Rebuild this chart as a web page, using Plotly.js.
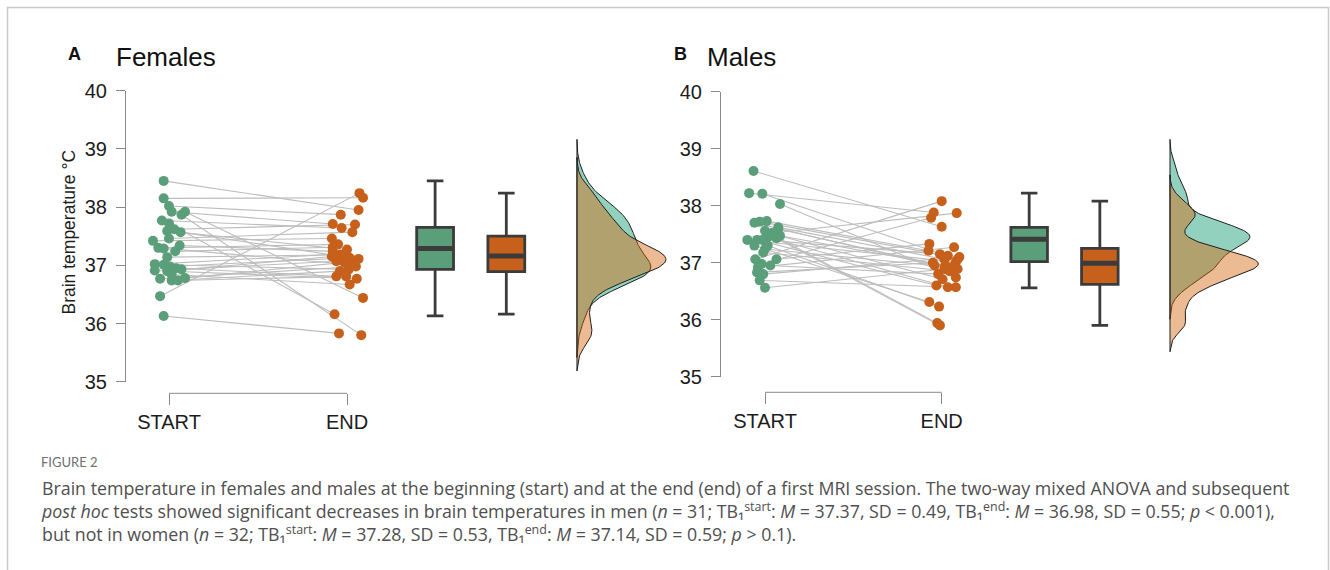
<!DOCTYPE html>
<html>
<head>
<meta charset="utf-8">
<script src="https://cdn.plot.ly/plotly-3.0.1.min.js"></script>
<style>
  html, body { margin: 0; padding: 0; background: #ffffff; }
  #chart { width: 1330px; height: 570px; }
</style>
</head>
<body>
<div id="chart"></div>
<script>
// Measurement time points
const categories = ['START', 'END'];
const yTickValues = [35, 36, 37, 38, 39, 40];

// Females: paired brain temperatures (°C), one entry per participant
const femaleStart = [38.45, 38.15, 36.47, 36.13, 37.87, 37.72, 38.02, 37.92, 37.92, 37.77, 37.62, 37.59, 37.57, 37.46, 37.42, 37.34,
                     37.30, 37.29, 37.24, 37.14, 37.02, 37.01, 36.98, 36.95, 36.93, 36.91, 36.90, 36.84, 36.78, 36.77, 36.74, 36.74];
const femaleEnd   = [37.95, 38.16, 38.24, 35.83, 35.80, 36.16, 37.87, 37.71, 36.44, 37.64, 37.70, 37.27, 37.11, 37.57, 37.46, 37.24,
                     37.36, 37.01, 37.31, 37.18, 37.20, 36.93, 37.13, 36.81, 37.07, 36.77, 37.15, 36.67, 37.05, 36.98, 36.90, 36.81];
// horizontal jitter of each dot around its category
const femaleStartJitter = [-0.03, -0.03, -0.05, -0.03, 0.07, 0.0, 0.0, 0.015, 0.09, -0.04, 0.03, -0.01, 0.065, 0.0, -0.09, 0.06,
                           -0.06, -0.03, 0.035, -0.01, -0.08, -0.03, 0.005, 0.04, 0.07, -0.08, -0.01, 0.015, 0.09, -0.05, 0.015, 0.05];
const femaleEndJitter   = [0.065, 0.09, 0.07, -0.045, 0.08, -0.07, -0.035, -0.08, 0.09, -0.03, 0.045, 0.0, 0.065, 0.03, -0.085, -0.08,
                           -0.05, 0.035, -0.08, -0.04, -0.01, 0.01, 0.015, -0.06, -0.06, 0.055, -0.085, 0.015, -0.015, 0.05, -0.04, -0.005];
// box statistics [START, END]
const femaleQ1 = [36.93, 36.89];
const femaleMedian = [37.29, 37.16];
const femaleQ3 = [37.65, 37.50];
const femaleLowerWhisker = [36.13, 36.16];
const femaleUpperWhisker = [38.45, 38.24];

// Males
const maleStart = [38.61, 38.22, 38.21, 38.03, 37.73, 37.72, 37.70, 37.62, 37.59, 37.56, 37.50, 37.47, 37.43, 37.40, 37.40, 37.30,
                   37.30, 37.24, 37.52, 37.18, 37.45, 37.06, 37.06, 37.40, 36.98, 36.95, 36.92, 36.83, 36.80, 36.69, 36.56];
const maleEnd   = [37.63, 37.88, 37.06, 36.74, 37.21, 37.12, 36.95, 37.06, 36.89, 35.94, 36.95, 36.71, 35.90, 37.01, 36.60, 36.23,
                   36.31, 36.92, 37.87, 36.85, 36.57, 38.08, 37.33, 37.15, 37.79, 36.80, 37.27, 37.00, 37.10, 36.57, 36.89];
const maleStartJitter = [-0.065, -0.09, -0.015, 0.085, 0.01, -0.03, -0.06, 0.075, 0.075, 0.0, 0.035, 0.085, 0.065, -0.1, -0.045, 0.015,
                         -0.06, 0.0, 0.04, -0.01, 0.015, -0.055, 0.065, -0.015, -0.02, 0.03, -0.04, -0.045, -0.01, -0.03, 0.0];
const maleEndJitter   = [0.0, -0.045, 0.09, 0.08, -0.075, 0.035, -0.04, 0.015, 0.09, -0.025, 0.02, 0.005, -0.01, 0.08, -0.03, -0.015,
                         -0.07, 0.055, 0.085, 0.045, 0.035, 0.0, -0.07, -0.01, -0.06, -0.02, 0.07, -0.05, 0.1, 0.08, 0.015];
const maleQ1 = [37.02, 36.62];
const maleMedian = [37.41, 36.99];
const maleQ3 = [37.62, 37.25];
const maleLowerWhisker = [36.56, 35.90];
const maleUpperWhisker = [38.22, 38.08];

// ---- drawing ----
const W = 1330, H = 570;
const GREEN = '#5a9e7a', ORANGE = '#c6601b';
const GREEN_FILL = 'rgba(27,158,119,0.48)', ORANGE_FILL = 'rgba(214,100,10,0.44)';
const BOX_POS = [2.495, 2.895];     // x position of the two boxes
const BOX_WIDTH = 0.207;
const DENS_BASE = 3.292;            // baseline of the half-violins
const DENS_MAX = 0.5;               // widest point of the half-violins
const X_MAX = 3.85;

function quantile(sorted, p) {
  const h = (sorted.length - 1) * p, lo = Math.floor(h);
  return sorted[lo] + (h - lo) * ((sorted[lo + 1] !== undefined ? sorted[lo + 1] : sorted[lo]) - sorted[lo]);
}

// Gaussian kernel density with Silverman's rule-of-thumb bandwidth
function kde(vals) {
  const n = vals.length;
  const s = vals.slice().sort((a, b) => a - b);
  const mean = vals.reduce((a, b) => a + b, 0) / n;
  const sd = Math.sqrt(vals.reduce((a, b) => a + (b - mean) ** 2, 0) / (n - 1));
  const iqr = quantile(s, 0.75) - quantile(s, 0.25);
  const bw = 0.9 * Math.min(sd, iqr / 1.34) * Math.pow(n, -0.2);
  const lo = s[0] - 3 * bw, hi = s[n - 1] + 3 * bw;
  const grid = [], dens = [];
  const m = 256;
  for (let k = 0; k < m; k++) {
    const g = lo + (hi - lo) * k / (m - 1);
    let d = 0;
    for (const v of vals) d += Math.exp(-0.5 * ((g - v) / bw) ** 2);
    grid.push(g);
    dens.push(d / (n * bw * Math.sqrt(2 * Math.PI)));
  }
  return { grid, dens };
}

function panelTraces(p, xa, ya) {
  const traces = [];
  const cat = [1, 2];
  // connecting lines between paired measurements
  const lx = [], ly = [];
  p.start.forEach((v, i) => {
    lx.push(cat[0] + p.jStart[i], cat[1] + p.jEnd[i], null);
    ly.push(v, p.end[i], null);
  });
  traces.push({ type: 'scatter', mode: 'lines', x: lx, y: ly, xaxis: xa, yaxis: ya,
    line: { color: '#bdbdbd', width: 1.1 }, hoverinfo: 'skip', showlegend: false });
  // dots
  [[p.start, p.jStart, cat[0], GREEN], [p.end, p.jEnd, cat[1], ORANGE]].forEach(([vals, jit, c, col]) => {
    traces.push({ type: 'scatter', mode: 'markers', x: vals.map((v, i) => c + jit[i]), y: vals,
      xaxis: xa, yaxis: ya, marker: { color: col, size: 10, line: { width: 0 } }, showlegend: false, cliponaxis: false });
  });
  // boxes
  [0, 1].forEach(k => {
    traces.push({ type: 'box', x: [BOX_POS[k]], q1: [p.q1[k]], median: [p.median[k]], q3: [p.q3[k]],
      lowerfence: [p.lw[k]], upperfence: [p.uw[k]], width: BOX_WIDTH, whiskerwidth: 0.45,
      fillcolor: k === 0 ? GREEN : ORANGE, line: { color: '#3b3b3b', width: 2.8 },
      boxpoints: false, xaxis: xa, yaxis: ya, showlegend: false });
  });
  // heavier median bars
  const mx = [], my = [];
  [0, 1].forEach(k => {
    mx.push(BOX_POS[k] - BOX_WIDTH / 2 + 0.008, BOX_POS[k] + BOX_WIDTH / 2 - 0.008, null);
    my.push(p.median[k], p.median[k], null);
  });
  traces.push({ type: 'scatter', mode: 'lines', x: mx, y: my, xaxis: xa, yaxis: ya,
    line: { color: '#3b3b3b', width: 5 }, hoverinfo: 'skip', showlegend: false });
  // half-violins
  const dS = kde(p.start), dE = kde(p.end);
  const scale = DENS_MAX / Math.max(...dS.dens, ...dE.dens);
  [[dS, GREEN_FILL], [dE, ORANGE_FILL]].forEach(([d, fill]) => {
    const x = [DENS_BASE], y = [d.grid[0]];
    d.grid.forEach((g, i) => { x.push(DENS_BASE + d.dens[i] * scale); y.push(g); });
    x.push(DENS_BASE); y.push(d.grid[d.grid.length - 1]);
    x.push(DENS_BASE); y.push(d.grid[0]);
    traces.push({ type: 'scatter', mode: 'lines', x, y, fill: 'toself', fillcolor: fill,
      line: { color: '#1e1e1e', width: 1 }, xaxis: xa, yaxis: ya, hoverinfo: 'skip', showlegend: false });
  });
  return traces;
}

const female = { start: femaleStart, end: femaleEnd, jStart: femaleStartJitter, jEnd: femaleEndJitter,
  q1: femaleQ1, median: femaleMedian, q3: femaleQ3, lw: femaleLowerWhisker, uw: femaleUpperWhisker };
const male = { start: maleStart, end: maleEnd, jStart: maleStartJitter, jEnd: maleEndJitter,
  q1: maleQ1, median: maleMedian, q3: maleQ3, lw: maleLowerWhisker, uw: maleUpperWhisker };

// pixel geometry of each panel
const geomF = { axisPx: 126, startPx: 169, endPx: 347, topPx: 90.7, bottomPx: 381.7, bracketPx: 393.3 };
const geomM = { axisPx: 721, startPx: 765, endPx: 941.7, topPx: 91.7, bottomPx: 376.7, bracketPx: 392.3 };

const AXIS_GREY = '#8a8a8a';
const tickFont = { family: 'Liberation Sans, Arial, sans-serif', size: 20, color: '#1c1c1c' };

function axes(g) {
  const unit = g.endPx - g.startPx;
  const lo = 1 - (g.startPx - g.axisPx) / unit;
  const rightPx = g.startPx + (X_MAX - 1) * unit;
  const bracketY = 1 - g.bracketPx / H;
  const xa = { domain: [g.axisPx / W, rightPx / W], range: [lo, X_MAX], anchor: 'free', position: bracketY,
    showgrid: false, zeroline: false, showline: false, ticks: 'outside', ticklen: 11, tickwidth: 1,
    tickcolor: AXIS_GREY, tickvals: [1, 2], ticktext: categories, tickfont: tickFont, ticklabelstandoff: 0,
    fixedrange: true };
  const ya = { domain: [1 - g.bottomPx / H, 1 - g.topPx / H], range: [35, 40], showgrid: false, zeroline: false,
    showline: true, linecolor: AXIS_GREY, linewidth: 1, ticks: 'outside', ticklen: 9, tickwidth: 1,
    tickcolor: AXIS_GREY, tickvals: yTickValues, tickfont: tickFont, ticklabelstandoff: 5, fixedrange: true };
  return { xa, ya, bracketY };
}

const aF = axes(geomF), aM = axes(geomM);
aM.ya.anchor = 'x2';
aF.ya.anchor = 'x';

const data = [...panelTraces(female, 'x', 'y'), ...panelTraces(male, 'x2', 'y2')];

const capFont = { family: 'Open Sans, Lato, sans-serif', size: 17.8, color: '#505050' };
const ann = (x, y, text, font, extra) => Object.assign({ xref: 'paper', yref: 'paper', x: x / W, y: 1 - y / H,
  text, font, showarrow: false, xanchor: 'left', yanchor: 'middle' }, extra || {});

const captionLines = [
  'Brain temperature in females and males at the beginning (start) and at the end (end) of a first MRI session. The two-way mixed ANOVA and subsequent',
  '<i>post hoc</i> tests showed significant decreases in brain temperatures in men (<i>n</i> = 31; TB\u2081<sup>start</sup>: <i>M</i> = 37.37, SD = 0.49, TB\u2081<sup>end</sup>: <i>M</i> = 36.98, SD = 0.55; <i>p</i> &lt; 0.001),',
  'but not in women (<i>n</i> = 32; TB\u2081<sup>start</sup>: <i>M</i> = 37.28, SD = 0.53, TB\u2081<sup>end</sup>: <i>M</i> = 37.14, SD = 0.59; <i>p</i> &gt; 0.1).'
];

const annotations = [
  ann(66, 54, '<b>A</b>', { family: 'Liberation Sans, Arial, sans-serif', size: 18, color: '#111' }),
  ann(114, 57.5, 'Females', { family: 'Liberation Sans, Arial, sans-serif', size: 26, color: '#111' }),
  ann(672, 54, '<b>B</b>', { family: 'Liberation Sans, Arial, sans-serif', size: 18, color: '#111' }),
  ann(705, 57.5, 'Males', { family: 'Liberation Sans, Arial, sans-serif', size: 26, color: '#111' }),
  ann(68.5, 232, 'Brain temperature \u00B0C', { family: 'Liberation Sans, Arial, sans-serif', size: 17.5, color: '#1c1c1c' },
      { textangle: -90, xanchor: 'center' }),
  ann(39, 462, 'FIGURE 2', { family: 'Lato, Open Sans, sans-serif', size: 13, color: '#707070' }),
  ann(39, 511, captionLines.join('<br>'), capFont, { align: 'left' })
];

const bracket = (xref, yPos) => ({ type: 'line', xref, yref: 'paper', x0: 1, x1: 2, y0: yPos, y1: yPos,
  line: { color: AXIS_GREY, width: 1 } });

const layout = {
  width: W, height: H, margin: { l: 0, r: 0, t: 0, b: 0 },
  paper_bgcolor: '#ffffff', plot_bgcolor: 'rgba(0,0,0,0)', showlegend: false,
  xaxis: aF.xa, yaxis: aF.ya, xaxis2: aM.xa, yaxis2: aM.ya,
  annotations,
  shapes: [
    bracket('x', aF.bracketY), bracket('x2', aM.bracketY),
    // figure frame
    { type: 'rect', xref: 'paper', yref: 'paper', x0: 7.5 / W, x1: 1328.5 / W, y0: -0.1, y1: 1 - 7.5 / H,
      line: { color: '#c9c9c9', width: 1.5 }, layer: 'below' }
  ]
};

Plotly.newPlot('chart', data, layout, { staticPlot: true, displayModeBar: false });
</script>
</body>
</html>
